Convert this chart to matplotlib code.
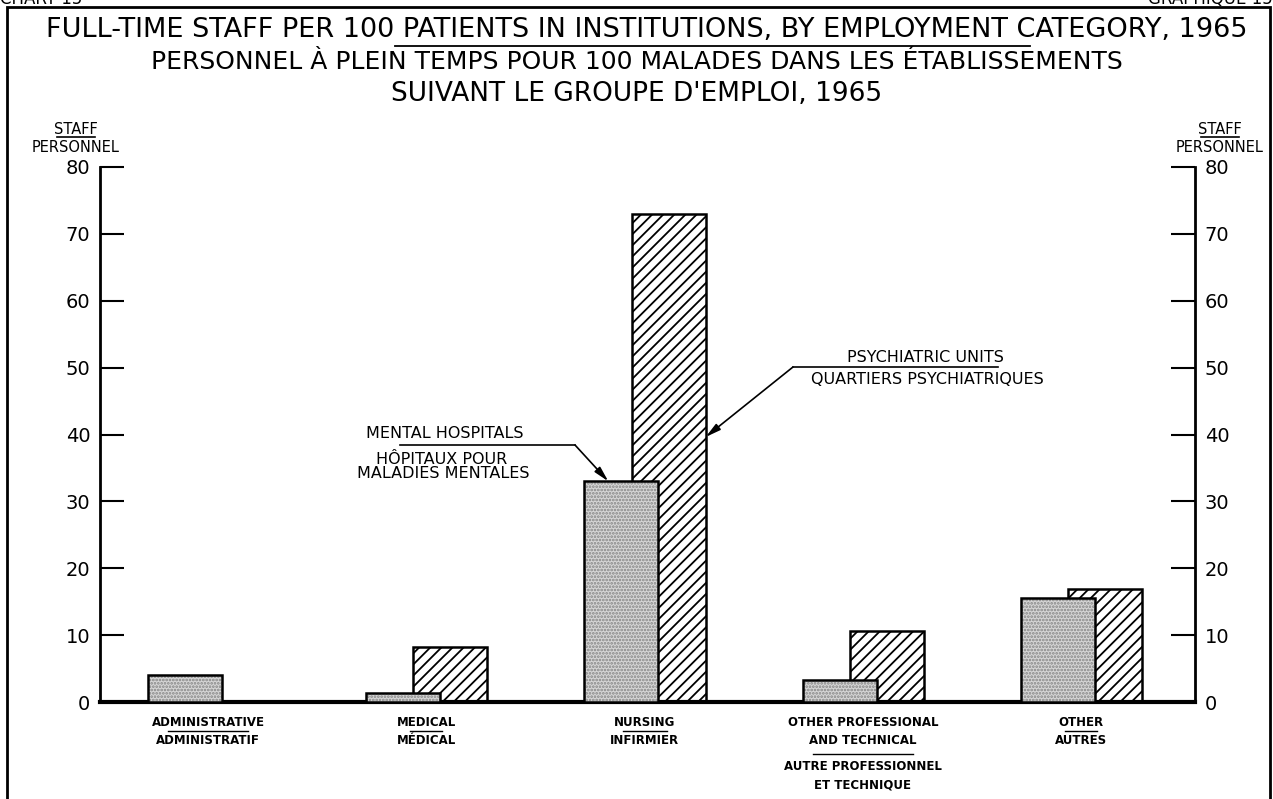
import numpy as np
import matplotlib
matplotlib.use("Agg")
import matplotlib.pyplot as plt
import matplotlib.transforms as mtransforms
from matplotlib.lines import Line2D
from matplotlib.patches import Rectangle

# ---------------- data ----------------
categories_en = ["ADMINISTRATIVE", "MEDICAL", "NURSING",
                 "OTHER PROFESSIONAL\nAND TECHNICAL", "OTHER"]
categories_fr = ["ADMINISTRATIF", "MÉDICAL", "INFIRMIER",
                 "AUTRE PROFESSIONNEL\nET TECHNIQUE", "AUTRES"]
mental_hospitals = [4.0, 1.3, 33.0, 3.3, 15.6]
psychiatric_units = [0.0, 8.2, 73.0, 10.6, 16.9]
y_ticks = [0, 10, 20, 30, 40, 50, 60, 70, 80]

title_en = "FULL-TIME STAFF PER 100 PATIENTS IN INSTITUTIONS, BY EMPLOYMENT CATEGORY, 1965"
title_fr1 = "PERSONNEL À PLEIN TEMPS POUR 100 MALADES DANS LES ÉTABLISSEMENTS"
title_fr2 = "SUIVANT LE GROUPE D'EMPLOI, 1965"

# ---------------- layout helpers ----------------
W, H = 1273, 799
plt.rcParams["hatch.linewidth"] = 1.3
fig = plt.figure(figsize=(W / 100, H / 100), dpi=100)
fig.patch.set_facecolor("white")

AX_L, AX_R, AX_B, AX_T = 100, 1195, 702, 167
ax = fig.add_axes([AX_L / W, 1 - AX_B / H, (AX_R - AX_L) / W, (AX_B - AX_T) / H])

SP = 218.3  # pixels per category
X0 = -0.495
ax.set_xlim(X0, X0 + (AX_R - AX_L) / SP)
ax.set_ylim(0, 80)


def F(px, py):
    return px / W, 1 - py / H


def dx(px):
    return (px - AX_L) / SP + X0


def dy(py):
    return (AX_B - py) / (AX_B - AX_T) * 80


x = np.arange(len(categories_en))
bw = 0.339
mh_off = -0.107
pu_off = 0.110

# psychiatric units (behind)
ax.bar(x + pu_off, psychiatric_units, bw, facecolor="white", edgecolor="black",
       hatch="///", linewidth=1.8, zorder=2)
# mental hospitals (front, stippled)
ax.bar(x + mh_off, mental_hospitals, bw, facecolor="#d6d6d6", edgecolor="#858585",
       hatch=".....", linewidth=0, zorder=3)
ax.bar(x + mh_off, mental_hospitals, bw, fill=False, edgecolor="black",
       linewidth=1.8, zorder=4)

# axes styling
ax.spines["top"].set_visible(False)
ax.spines["left"].set_linewidth(2)
ax.spines["right"].set_linewidth(2)
ax.spines["bottom"].set_linewidth(3)
ax.set_xticks([])
ax.set_yticks(y_ticks)
ax.tick_params(axis="y", direction="in", length=17, width=1.5, left=True, right=True,
               labelleft=True, labelright=True, labelsize=14, pad=7)

# axis unit labels
for cx in (76, 1220):
    fig.text(*F(cx, 129), "STAFF", ha="center", va="center", fontsize=10.5)
    fig.text(*F(cx, 147), "PERSONNEL", ha="center", va="center", fontsize=10.5)
    fig.add_artist(Line2D([(cx - 19) / W, (cx + 19) / W], [1 - 137 / H] * 2,
                          color="black", lw=1.2))

# titles
fig.text(*F(647, 30), title_en, ha="center", va="center", fontsize=19.5)
fig.add_artist(Line2D([395 / W, 1030 / W], [1 - 46 / H] * 2, color="black", lw=1.3))
fig.text(*F(637, 62), title_fr1, ha="center", va="center", fontsize=18)
fig.text(*F(637, 94), title_fr2, ha="center", va="center", fontsize=19)

# header (cut off at the top of the page)
fig.text(*F(0, 4), "CHART 15", ha="left", va="baseline", fontsize=12)
fig.text(*F(1273, 4), "GRAPHIQUE 15", ha="right", va="baseline", fontsize=12)

# frame
fig.add_artist(Rectangle((7 / W, -0.05), (1270 - 7) / W, 1 - 7 / H + 0.05,
                         transform=fig.transFigure, fill=False, lw=2, edgecolor="black"))

# category labels
trans = mtransforms.blended_transform_factory(ax.transData, fig.transFigure)
ul_half_px = [40, 16, 22, 50, 16]
cat_font = dict(family=["Liberation Sans Narrow", "DejaVu Sans"], weight="bold",
                fontsize=8.5, ha="center", va="center", transform=trans)
for i in range(len(categories_en)):
    en_lines = categories_en[i].split("\n")
    fr_lines = categories_fr[i].split("\n")
    single = len(en_lines) == 1
    y = 722
    for ln in en_lines:
        fig.text(x[i], 1 - y / H, ln, **cat_font)
        y += 18
    y -= 18
    y_ul = y + (9 if single else 14)
    hw = ul_half_px[i] / SP
    fig.add_artist(Line2D([x[i] - hw, x[i] + hw], [1 - y_ul / H] * 2,
                          transform=trans, color="black", lw=1.0))
    y = y_ul + (9 if single else 13)
    for ln in fr_lines:
        fig.text(x[i], 1 - y / H, ln, **cat_font)
        y += 18

# annotations
ann_font = dict(ha="center", va="center", fontsize=11.5)
fig.text(*F(445, 433), "MENTAL HOSPITALS", **ann_font)
fig.text(*F(442, 460), "HÔPITAUX POUR", **ann_font)
fig.text(*F(443, 474), "MALADIES MENTALES", **ann_font)
ax.plot([dx(400), dx(575)], [dy(445)] * 2, color="black", lw=1.2, clip_on=False)
mh_tip = (x[2] + mh_off - bw / 2 + 24 / SP, mental_hospitals[2])
ax.annotate("", xy=mh_tip, xytext=(dx(575), dy(445)),
            arrowprops=dict(arrowstyle="-|>,head_length=0.9,head_width=0.22",
                            color="black", lw=1.2, shrinkA=0, shrinkB=0), zorder=6)

fig.text(*F(925, 357), "PSYCHIATRIC UNITS", **ann_font)
fig.text(*F(927, 379), "QUARTIERS PSYCHIATRIQUES", **ann_font)
ax.plot([dx(793), dx(998)], [dy(367)] * 2, color="black", lw=1.2, clip_on=False)
pu_tip = (x[2] + pu_off + bw / 2, dy(437))
ax.annotate("", xy=pu_tip, xytext=(dx(793), dy(367)),
            arrowprops=dict(arrowstyle="-|>,head_length=0.9,head_width=0.22",
                            color="black", lw=1.2, shrinkA=0, shrinkB=0), zorder=6)

fig.savefig("out.png", dpi=100)
